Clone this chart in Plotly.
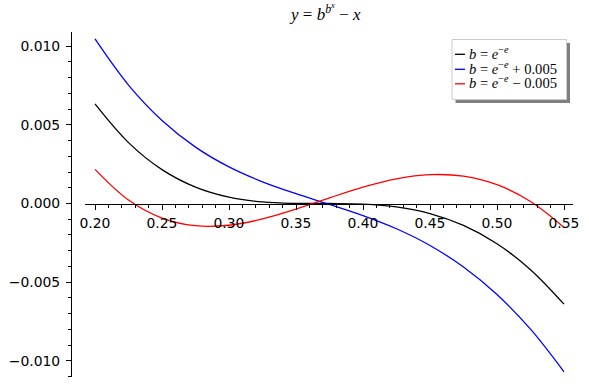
import plotly.graph_objects as go

# ---- data (values of y = b^(b^x) - x read for each curve) ----
x_vals = [0.200, 0.225, 0.250, 0.275, 0.300, 0.325, 0.350, 0.375,
          0.400, 0.425, 0.450, 0.475, 0.500, 0.525, 0.550]
y_base = [0.0063271, 0.0038703, 0.0021529, 0.0010414, 0.0004013, 0.0000996,
          0.0000068, -0.0000008, -0.0000401, -0.0002204, -0.0006414,
          -0.0013938, -0.0025583, -0.0042058, -0.0063982]
y_plus = [0.0104546, 0.0075256, 0.0052768, 0.0035851, 0.0023265, 0.0013785,
          0.0006222, -0.0000563, -0.0007655, -0.0016045, -0.0026664,
          -0.0040354, -0.0057865, -0.0079869, -0.0106941]
y_minus = [0.0021693, 0.0002194, -0.0009254, -0.0014100, -0.0013811,
           -0.0009836, -0.0003591, 0.0003575, 0.0010387, 0.0015661,
           0.0018313, 0.0017366, 0.0011952, 0.0001312, -0.0015204]

series_names = ["<i>b</i> = <i>e</i><sup>−<i>e</i></sup>",
                "<i>b</i> = <i>e</i><sup>−<i>e</i></sup> + 0.005",
                "<i>b</i> = <i>e</i><sup>−<i>e</i></sup> − 0.005"]
series_colors = ["#000000", "#0000ff", "#ff0000"]
title_text = "<i>y</i> = <i>b</i><sup><i>b</i><sup><i>x</i></sup></sup> − <i>x</i>"

y_tickvals = [-0.010, -0.005, 0.000, 0.005, 0.010]
x_tickvals = [0.20, 0.25, 0.30, 0.35, 0.40, 0.45, 0.50, 0.55]

# ---- geometry (pixels) ----
W, H = 589, 388
L, R, T, B = 71, 589, 32, 377          # plot area in pixels
PW, PH = R - L, B - T


def px(xp):
    return (xp - L) / PW


def py(yp):
    return (B - yp) / PH


y_range = [-0.011026, 0.010899]
x_range = [0.19254, 0.55672]
x_dom = [px(85), px(573)]
x_axis_pos = (0 - y_range[0]) / (y_range[1] - y_range[0])

fig = go.Figure()
for ys, nm, col in zip([y_base, y_plus, y_minus], series_names, series_colors):
    fig.add_trace(go.Scatter(x=x_vals, y=ys, mode="lines", name=nm,
                             line=dict(color=col, width=1.3, shape="spline"),
                             showlegend=False, hoverinfo="skip"))

tick_font = dict(family="DejaVu Sans", size=13.9, color="black")

fig.update_layout(
    template="none",
    autosize=False,
    width=W, height=H,
    margin=dict(l=L, r=W - R, t=T, b=H - B, pad=0, autoexpand=False),
    paper_bgcolor="white", plot_bgcolor="white",
    showlegend=False,
    xaxis=dict(domain=x_dom, range=x_range, anchor="free", position=x_axis_pos,
               automargin=False,
               showline=True, linecolor="black", linewidth=1.1,
               ticks="outside", ticklen=5, tickwidth=1.1, tickcolor="black",
               tickvals=x_tickvals, ticktext=[f"{v:.2f}" for v in x_tickvals],
               tickfont=tick_font, showgrid=False, zeroline=False,
               ticklabelstandoff=2,
               minor=dict(dtick=0.01, tick0=0.0, ticks="outside", ticklen=3,
                          tickwidth=0.8, tickcolor="black", showgrid=False)),
    yaxis=dict(domain=[0, 1], range=y_range, anchor="free", position=0,
               automargin=False,
               showline=True, linecolor="black", linewidth=1.1,
               ticks="outside", ticklen=5, tickwidth=1.1, tickcolor="black",
               tickvals=y_tickvals, tickformat=".3f",
               tickfont=tick_font, showgrid=False, zeroline=False,
               ticklabelstandoff=3,
               minor=dict(dtick=0.001, tick0=0.0, ticks="outside", ticklen=3,
                          tickwidth=0.8, tickcolor="black", showgrid=False)),
)

# title
fig.add_annotation(x=px(325), y=py(12.5), xref="paper", yref="paper",
                   text=title_text, showarrow=False, xanchor="center", yanchor="middle",
                   borderpad=0,
                   font=dict(family="Liberation Serif", size=17, color="black"))

# legend: shadow, box, handles, labels
box = (452, 39.5, 566.5, 99.5)
fig.add_shape(type="rect", xref="paper", yref="paper",
              x0=px(box[0] + 3.5), x1=px(box[2] + 3.5), y0=py(box[1] + 3.5), y1=py(box[3] + 3.5),
              fillcolor="#808080", line=dict(width=0))
fig.add_shape(type="rect", xref="paper", yref="paper",
              x0=px(box[0]), x1=px(box[2]), y0=py(box[1]), y1=py(box[3]),
              fillcolor="white", line=dict(color="#cccccc", width=1))
row_y = [54.3, 69.3, 83.8]
for ry, nm, col in zip(row_y, series_names, series_colors):
    fig.add_shape(type="line", xref="paper", yref="paper",
                  x0=px(455), x1=px(465), y0=py(ry), y1=py(ry),
                  line=dict(color=col, width=1.3))
    fig.add_annotation(x=px(467.5), y=py(ry - 1.5), xref="paper", yref="paper",
                       text=nm, showarrow=False, xanchor="left", yanchor="middle",
                       borderpad=0,
                       font=dict(family="Liberation Serif", size=14.6, color="black"))

fig.write_html("out.html",
               config={"displayModeBar": False},
               post_script="document.body.style.margin='0';document.body.style.padding='0';")
